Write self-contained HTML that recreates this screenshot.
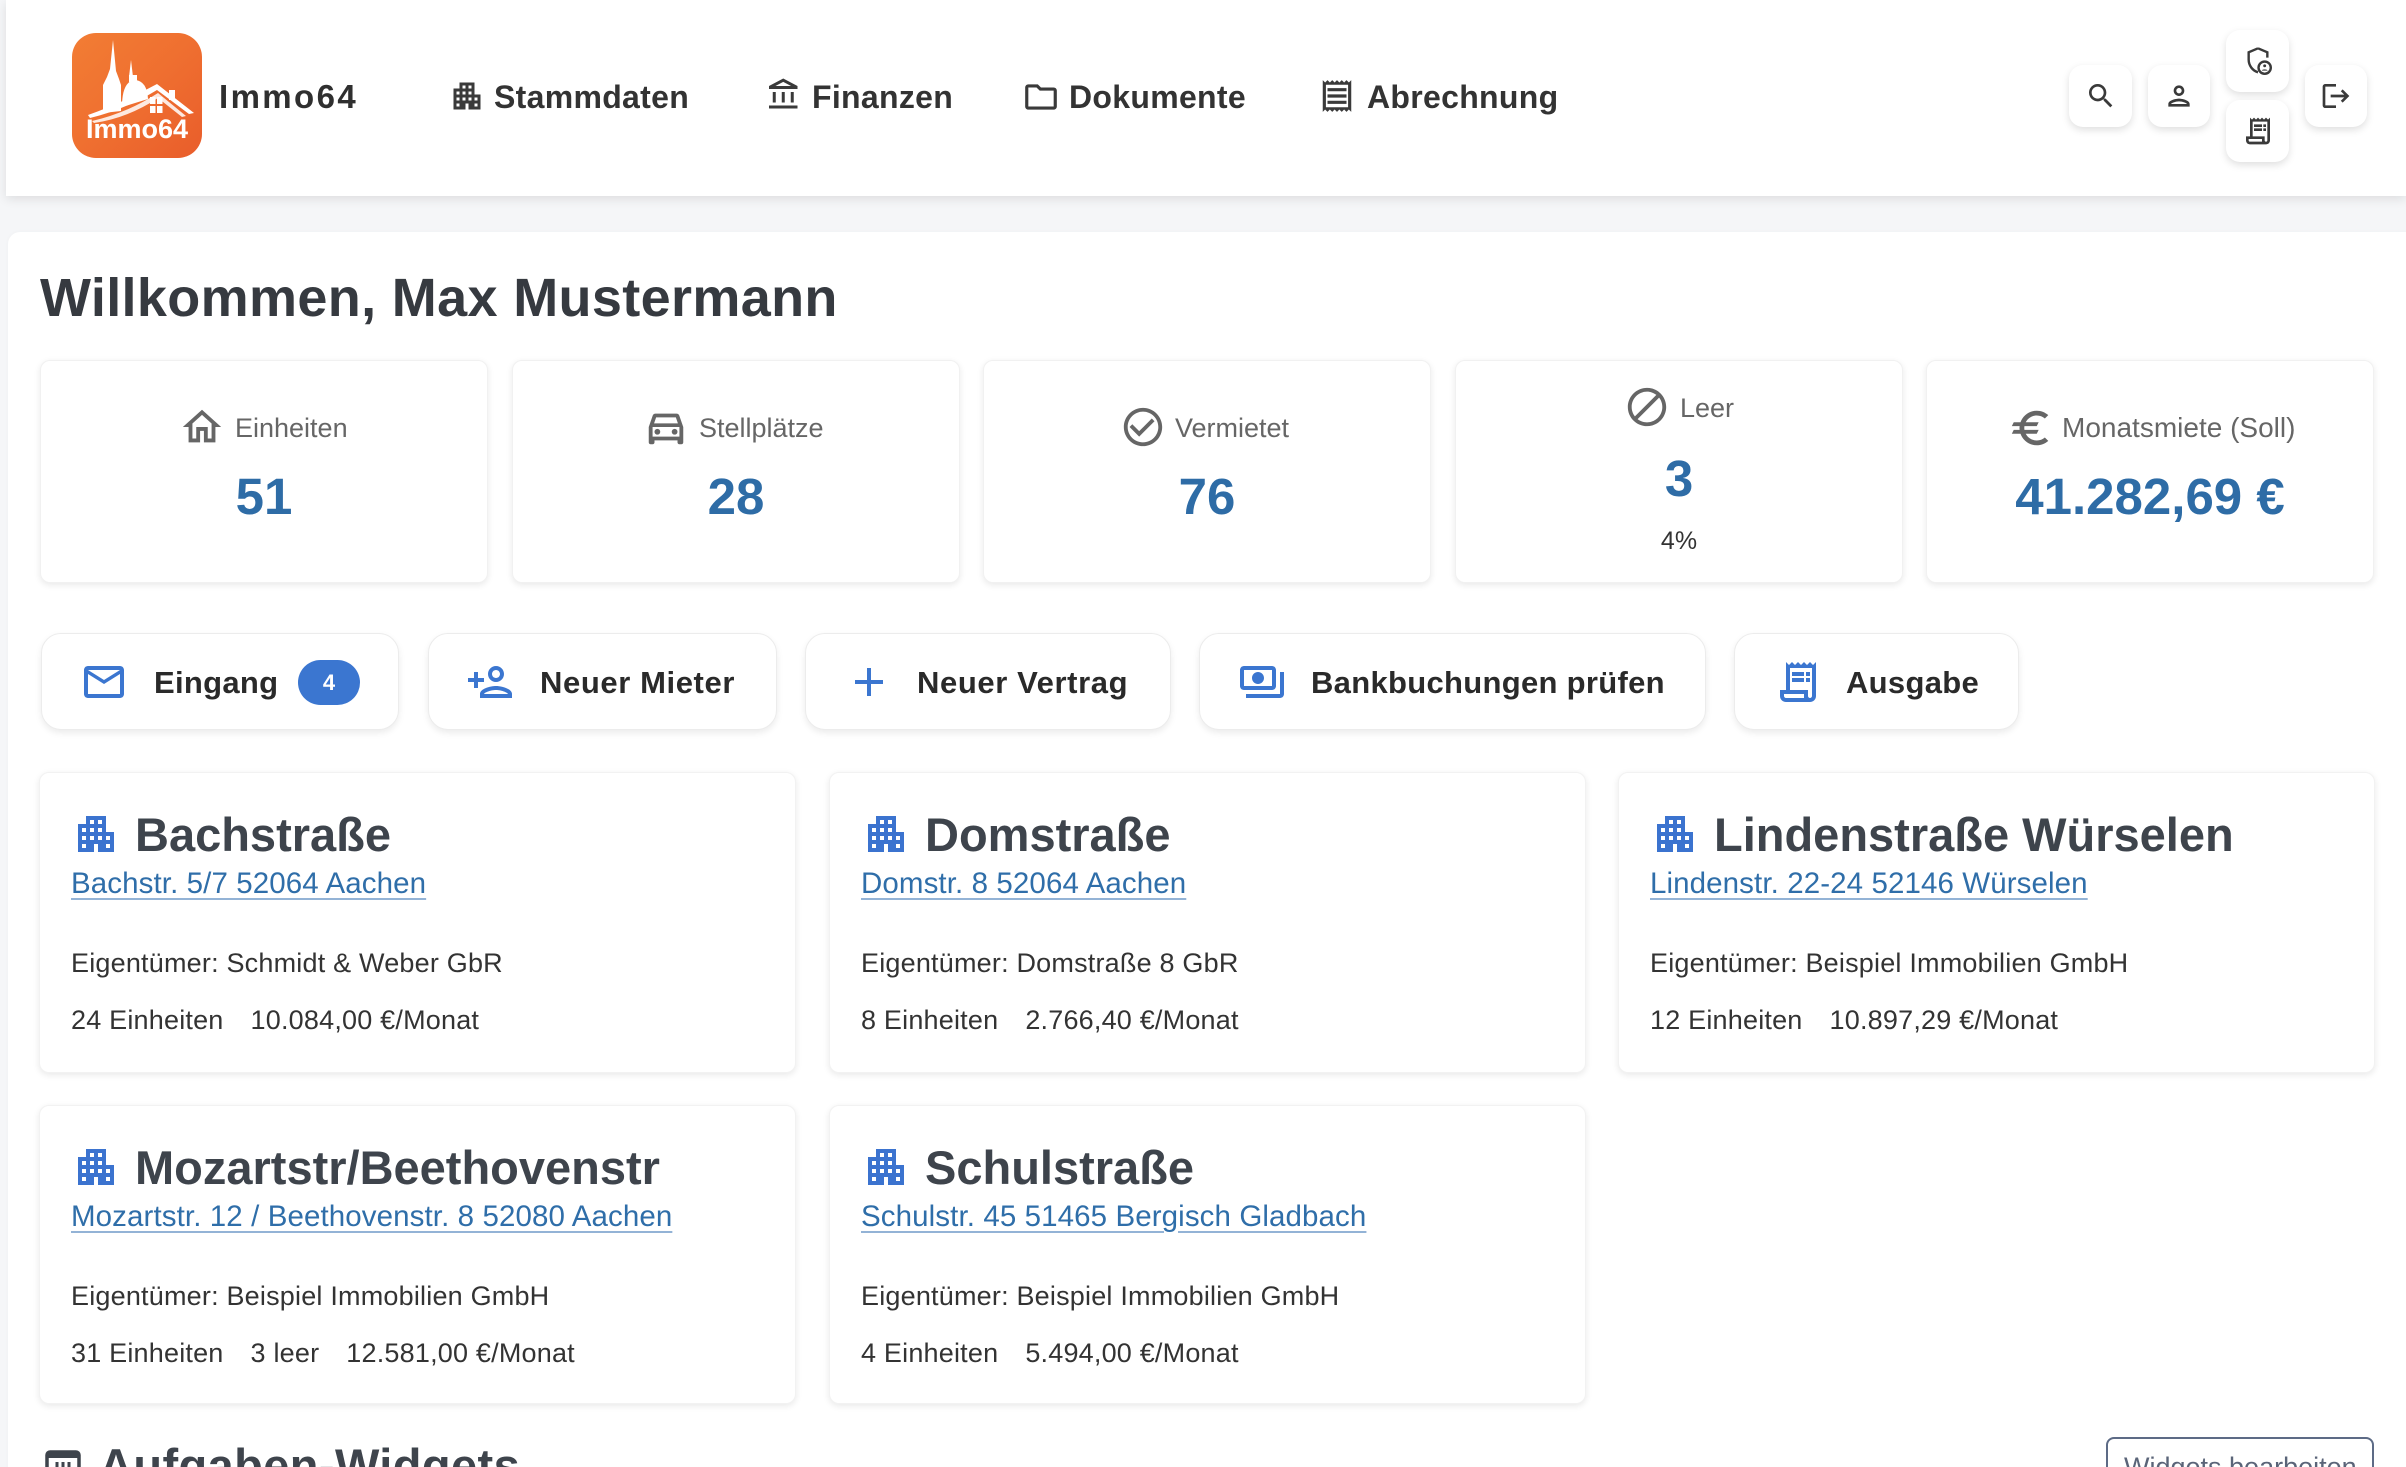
<!DOCTYPE html>
<html><head><meta charset="utf-8">
<style>
*{box-sizing:border-box;margin:0;padding:0}
html,body{width:2406px;height:1467px;overflow:hidden}
body{position:relative;background:#f5f6f8;font-family:"Liberation Sans",Arial,sans-serif;color:#333}
.a{position:absolute;white-space:nowrap;line-height:1}
.hdr{position:absolute;left:6px;top:0;width:2400px;height:196px;background:#fff;box-shadow:0 3px 10px rgba(0,0,0,.10)}
.main{position:absolute;left:8px;top:232px;width:2420px;height:1300px;background:#fff;border-radius:12px;box-shadow:0 0 4px rgba(0,0,0,.03)}
.nav{font-size:32px;font-weight:bold;color:#333;top:81px;letter-spacing:0.3px}
.hb{position:absolute;background:#fff;border-radius:14px;box-shadow:0 3px 8px rgba(0,0,0,.13);display:flex;align-items:center;justify-content:center}
.sc{position:absolute;top:360px;width:448px;height:223px;background:#fff;border-radius:10px;box-shadow:0 2px 7px rgba(0,0,0,.09);border:1px solid #f1f1f1}
.sl{font-size:27px;color:#666;top:415px}
.sn{position:absolute;left:0;width:100%;text-align:center;font-size:51px;font-weight:bold;color:#2e6ca6;line-height:1}
.btn{position:absolute;top:633px;height:97px;background:#fff;border-radius:20px;border:1px solid #ececec;box-shadow:0 3px 7px rgba(0,0,0,.08)}
.bt{font-size:31px;font-weight:bold;color:#2a2a2a;top:667px;letter-spacing:0.3px}
.bi{position:absolute;top:658px}
.pc{position:absolute;width:757px;background:#fff;border-radius:10px;box-shadow:0 2px 7px rgba(0,0,0,.09);border:1px solid #f2f2f2}
.pc .ic{position:absolute;left:32px;top:37px}
.pt{position:absolute;left:95px;top:38px;font-size:47px;font-weight:bold;color:#3e444c;line-height:1;white-space:nowrap}
.pl{position:absolute;left:31px;top:96px;font-size:29.5px;color:#2f6ea9;line-height:1;white-space:nowrap;text-decoration:underline;text-decoration-color:#93b3d6;text-decoration-thickness:2px;text-underline-offset:5px;letter-spacing:0.1px}
.po{position:absolute;left:31px;top:177px;font-size:27px;color:#333;line-height:1;white-space:nowrap;letter-spacing:0.2px}
.ps{position:absolute;left:31px;top:234px;font-size:27px;color:#333;line-height:1;white-space:nowrap;letter-spacing:0.2px}
.ps span{margin-right:27px}
</style></head><body>

<div class="hdr"></div>

<!-- Logo -->
<svg class="a" style="left:72px;top:33px" width="130" height="125" viewBox="0 0 130 125">
<defs><linearGradient id="lg" x1="0" y1="0" x2="1" y2="1"><stop offset="0" stop-color="#f27d34"/><stop offset="0.5" stop-color="#ef6f30"/><stop offset="1" stop-color="#e95d2b"/></linearGradient></defs>
<rect x="0" y="0" width="130" height="125" rx="24" fill="url(#lg)"/>
<g fill="#fff">
<polygon points="41,7 44,38 47,46 49,52 49,78 31,80 31,52 35,44 38,36"/>
<polygon points="59,27 61,44 57,44"/>
<path d="M50 74 Q50 48 63 47 Q75 48 76 66 Z"/>
<rect x="57" y="42" width="8" height="7"/>
<path d="M16 82 Q50 70 85 51 L122 80 L117 81 L85 57 Q52 77 18 85 Z"/>
<path d="M20 88 Q55 80 86 60 L114 83 L110 84 L86 65 Q56 85 22 90 Z" opacity=".85"/>
<rect x="97" y="57" width="6" height="10"/>
<rect x="78" y="64" width="5.5" height="7"/><rect x="85" y="64" width="5.5" height="7"/>
<rect x="78" y="73" width="5.5" height="7"/><rect x="85" y="73" width="5.5" height="7"/>
</g>
<text x="65" y="105" text-anchor="middle" font-family="Liberation Sans, Arial, sans-serif" font-weight="bold" font-size="27" fill="#fff">Immo64</text>
</svg>

<div class="a" style="left:219px;top:80px;font-size:33px;font-weight:bold;color:#2f2f2f;letter-spacing:2.4px">Immo64</div>

<!-- nav icons -->
<svg class="a" style="left:449px;top:78px" width="36" height="36" viewBox="0 0 24 24"><path fill="#3a3a3a" fill-rule="evenodd" d="M17 11V3H7v4H3v14h8v-4h2v4h8V11h-4z M7 19H5v-2h2v2z M7 15H5v-2h2v2z M7 11H5V9h2v2z M11 15H9v-2h2v2z M11 11H9V9h2v2z M11 7H9V5h2v2z M15 15h-2v-2h2v2z M15 11h-2V9h2v2z M15 7h-2V5h2v2z M19 19h-2v-2h2v2z M19 15h-2v-2h2v2z"/></svg>
<div class="a nav" style="left:494px">Stammdaten</div>
<svg class="a" style="left:766px;top:77px" width="36" height="36" viewBox="0 0 24 24"><path fill="#3a3a3a" d="M6.5 10h-2v7h2v-7zm6 0h-2v7h2v-7zm8.5 9H2v2h19v-2zm-2.5-9h-2v7h2v-7zm-7-6.74L16.71 6H6.29l5.21-2.74m0-2.26L2 6v2h19V6l-9.5-5z"/></svg>
<div class="a nav" style="left:812px">Finanzen</div>
<svg class="a" style="left:1022px;top:78px" width="38" height="38" viewBox="0 0 24 24"><path fill="#3a3a3a" d="M9.17 6l2 2H20v10H4V6h5.17M10 4H4c-1.1 0-1.99.9-1.99 2L2 18c0 1.1.9 2 2 2h16c1.1 0 2-.9 2-2V8c0-1.1-.9-2-2-2h-8l-2-2z"/></svg>
<div class="a nav" style="left:1069px">Dokumente</div>
<svg class="a" style="left:1318px;top:77px" width="38" height="38" viewBox="0 0 24 24"><path fill="#3a3a3a" d="M19.5 3.5L18 2l-1.5 1.5L15 2l-1.5 1.5L12 2l-1.5 1.5L9 2 7.5 3.5 6 2 4.5 3.5 3 2v20l1.5-1.5L6 22l1.5-1.5L9 22l1.5-1.5L12 22l1.5-1.5L15 22l1.5-1.5L18 22l1.5-1.5L21 22V2l-1.5 1.5zM19 19.09H5V4.91h14v14.18zM6 15h12v2H6zm0-4h12v2H6zm0-4h12v2H6z"/></svg>
<div class="a nav" style="left:1367px">Abrechnung</div>

<!-- header right buttons -->
<div class="hb" style="left:2069px;top:65px;width:63px;height:62px"><svg width="32" height="32" viewBox="0 0 24 24"><path fill="#3a3a3a" d="M15.5 14h-.79l-.28-.27C15.41 12.59 16 11.11 16 9.5 16 5.91 13.09 3 9.5 3S3 5.91 3 9.5 5.91 16 9.5 16c1.61 0 3.09-.59 4.23-1.57l.27.28v.79l5 4.99L20.49 19l-4.99-5zm-6 0C7.01 14 5 11.99 5 9.5S7.01 5 9.5 5 14 7.01 14 9.5 11.99 14 9.5 14z"/></svg></div>
<div class="hb" style="left:2148px;top:65px;width:62px;height:62px"><svg width="32" height="32" viewBox="0 0 24 24"><path fill="#3a3a3a" d="M12 6c1.1 0 2 .9 2 2s-.9 2-2 2-2-.9-2-2 .9-2 2-2m0 10c2.7 0 5.8 1.29 6 2H6c.23-.72 3.31-2 6-2m0-12C9.79 4 8 5.790 8 8s1.79 4 4 4 4-1.79 4-4-1.79-4-4-4zm0 10c-2.67 0-8 1.34-8 4v2h16v-2c0-2.66-5.33-4-8-4z"/></svg></div>
<div class="hb" style="left:2226px;top:30px;width:63px;height:62px"><svg width="32" height="32" viewBox="0 0 24 24"><path fill="none" stroke="#3a3a3a" stroke-width="1.8" d="M12 2.5L5 5.5v5.5c0 4.3 2.8 8.2 7 9.5"/><path fill="none" stroke="#3a3a3a" stroke-width="1.8" d="M12 2.5l7 3v4"/><circle cx="17" cy="17" r="4.6" fill="none" stroke="#3a3a3a" stroke-width="1.8"/><circle cx="17" cy="15.6" r="1.1" fill="#3a3a3a"/><path d="M14.8 19.2c.6-1.2 3.8-1.2 4.4 0z" fill="#3a3a3a"/></svg></div>
<div class="hb" style="left:2226px;top:100px;width:63px;height:62px"><svg width="32" height="32" viewBox="0 0 24 24"><path fill="#3a3a3a" d="M19.5 3.5L18 2l-1.5 1.5L15 2l-1.5 1.5L12 2l-1.5 1.5L9 2 7.5 3.5 6 2v14H3v3c0 1.66 1.34 3 3 3h12c1.66 0 3-1.34 3-3V2l-1.5 1.5zM15 20H6c-.55 0-1-.45-1-1v-1h10v2zm4-1c0 .55-.45 1-1 1s-1-.45-1-1v-3H8V5h11v14zM9 7h6v2H9zM16 7h2v2h-2zM9 10h6v2H9zM16 10h2v2h-2z"/></svg></div>
<div class="hb" style="left:2305px;top:65px;width:62px;height:62px"><svg width="32" height="32" viewBox="0 0 24 24"><path fill="#3a3a3a" d="M17 7l-1.41 1.41L18.17 11H8v2h10.17l-2.58 2.58L17 17l5-5zM4 5h8V3H4c-1.1 0-2 .9-2 2v14c0 1.1.9 2 2 2h8v-2H4V5z"/></svg></div>

<div class="main"></div>

<div class="a" style="left:40px;top:271px;font-size:54px;font-weight:bold;color:#363a40;letter-spacing:0.35px">Willkommen, Max Mustermann</div>

<!-- stat cards -->
<div class="sc" style="left:40px"><div class="sn" style="top:110px">51</div></div>
<div class="sc" style="left:512px"><div class="sn" style="top:110px">28</div></div>
<div class="sc" style="left:983px"><div class="sn" style="top:110px">76</div></div>
<div class="sc" style="left:1455px"><div class="sn" style="top:92px">3</div><div style="position:absolute;left:0;width:100%;top:168px;text-align:center;font-size:25px;color:#333;line-height:1">4%</div></div>
<div class="sc" style="left:1926px"><div class="sn" style="top:110px">41.282,69 €</div></div>

<svg class="a" style="left:179px;top:404px" width="46" height="46" viewBox="0 0 24 24"><path fill="#666" d="M12 5.69l5 4.5V18h-2v-6H9v6H7v-7.81l5-4.5M12 3L2 12h3v8h6v-6h2v6h6v-8h3L12 3z"/></svg>
<div class="a sl" style="left:235px">Einheiten</div>
<svg class="a" style="left:643px;top:404px" width="46" height="46" viewBox="0 0 24 24"><path fill="#666" d="M18.92 6.01C18.72 5.42 18.16 5 17.5 5h-11c-.66 0-1.21.42-1.42 1.01L3 12v8c0 .55.45 1 1 1h1c.55 0 1-.45 1-1v-1h12v1c0 .55.45 1 1 1h1c.55 0 1-.45 1-1v-8l-2.08-5.99zM6.85 7h10.29l1.08 3.11H5.77L6.85 7zM19 17H5v-5h14v5z"/><circle cx="7.5" cy="14.5" r="1.5" fill="#666"/><circle cx="16.5" cy="14.5" r="1.5" fill="#666"/></svg>
<div class="a sl" style="left:699px">Stellplätze</div>
<svg class="a" style="left:1120px;top:404px" width="46" height="46" viewBox="0 0 24 24"><path fill="#666" d="M16.59 7.58L10 14.17l-3.59-3.58L5 12l5 5 8-8zM12 2C6.48 2 2 6.48 2 12s4.48 10 10 10 10-4.48 10-10S17.52 2 12 2zm0 18c-4.42 0-8-3.58-8-8s3.58-8 8-8 8 3.58 8 8-3.58 8-8 8z"/></svg>
<div class="a sl" style="left:1175px">Vermietet</div>
<svg class="a" style="left:1624px;top:384px" width="46" height="46" viewBox="0 0 24 24"><path fill="#666" d="M12 2C6.48 2 2 6.48 2 12s4.48 10 10 10 10-4.48 10-10S17.52 2 12 2zM4 12c0-4.42 3.58-8 8-8 1.85 0 3.55.63 4.9 1.69L5.69 16.9C4.63 15.55 4 13.85 4 12zm8 8c-1.85 0-3.55-.63-4.9-1.69L18.31 7.1C19.37 8.45 20 10.15 20 12c0 4.42-3.58 8-8 8z"/></svg>
<div class="a sl" style="left:1680px;top:395px">Leer</div>
<svg class="a" style="left:2008px;top:405px" width="46" height="46" viewBox="0 0 24 24"><path fill="#666" d="M15 18.5c-2.51 0-4.68-1.42-5.760-3.5H15l1-2H8.58c-.05-.33-.08-.66-.08-1s.03-.67.08-1H15l1-2H9.24C10.32 6.92 12.5 5.5 15 5.5c1.61 0 3.09.59 4.23 1.57L21 5.3C19.41 3.87 17.3 3 15 3c-3.92 0-7.24 2.51-8.48 6H3l-1 2h4.06c-.04.33-.06.66-.06 1s.02.67.06 1H3l-1 2h4.52c1.24 3.49 4.56 6 8.48 6 2.31 0 4.41-.87 6-2.3l-1.78-1.77c-1.13.98-2.6 1.57-4.220 1.57z"/></svg>
<div class="a sl" style="left:2062px;top:414px;font-size:28px">Monatsmiete (Soll)</div>

<!-- action buttons -->
<div class="btn" style="left:41px;width:358px"></div>
<div class="btn" style="left:428px;width:349px"></div>
<div class="btn" style="left:805px;width:366px"></div>
<div class="btn" style="left:1199px;width:507px"></div>
<div class="btn" style="left:1734px;width:285px"></div>

<svg class="bi" style="left:80px" width="48" height="48" viewBox="0 0 24 24"><path fill="#3b76d0" d="M22 6c0-1.1-.9-2-2-2H4c-1.1 0-2 .9-2 2v12c0 1.1.9 2 2 2h16c1.1 0 2-.9 2-2V6zm-2 0l-8 5-8-5h16zm0 12H4V8l8 5 8-5v10z"/></svg>
<div class="a bt" style="left:154px">Eingang</div>
<div class="a" style="left:298px;top:660px;width:62px;height:45px;border-radius:23px;background:#3b76d0;color:#fff;font-size:22px;font-weight:bold;text-align:center;line-height:45px">4</div>

<svg class="bi" style="left:466px" width="48" height="48" viewBox="0 0 24 24"><path fill="#3b76d0" d="M15 12c2.21 0 4-1.79 4-4s-1.79-4-4-4-4 1.79-4 4 1.79 4 4 4zm0-6c1.1 0 2 .9 2 2s-.9 2-2 2-2-.9-2-2 .9-2 2-2zm0 8c-2.67 0-8 1.34-8 4v2h16v-2c0-2.66-5.330-4-8-4zm-6 4c.22-.72 3.31-2 6-2 2.7 0 5.8 1.29 6 2H9zm-3-3v-3h3v-2H6V7H4v3H1v2h3v3z"/></svg>
<div class="a bt" style="left:540px;letter-spacing:0.6px">Neuer Mieter</div>

<svg class="bi" style="left:845px" width="48" height="48" viewBox="0 0 24 24"><path fill="#3b76d0" d="M19 13h-6v6h-2v-6H5v-2h6V5h2v6h6v2z"/></svg>
<div class="a bt" style="left:917px;letter-spacing:0.6px">Neuer Vertrag</div>

<svg class="bi" style="left:1238px" width="48" height="48" viewBox="0 0 24 24"><path fill="#3b76d0" d="M19 14V6c0-1.1-.9-2-2-2H3c-1.1 0-2 .9-2 2v8c0 1.1.9 2 2 2h14c1.1 0 2-.9 2-2zm-2 0H3V6h14v8zm-7-7c-1.66 0-3 1.34-3 3s1.34 3 3 3 3-1.34 3-3-1.34-3-3-3zm13 0v11c0 1.1-.9 2-2 2H4v-2h17V7h2z"/></svg>
<div class="a bt" style="left:1311px">Bankbuchungen prüfen</div>

<svg class="bi" style="left:1774px" width="48" height="48" viewBox="0 0 24 24"><path fill="#3b76d0" d="M19.5 3.5L18 2l-1.5 1.5L15 2l-1.5 1.5L12 2l-1.5 1.5L9 2 7.5 3.5 6 2v14H3v3c0 1.66 1.34 3 3 3h12c1.66 0 3-1.34 3-3V2l-1.5 1.5zM15 20H6c-.55 0-1-.45-1-1v-1h10v2zm4-1c0 .55-.45 1-1 1s-1-.45-1-1v-3H8V5h11v14zM9 7h6v2H9zM16 7h2v2h-2zM9 10h6v2H9zM16 10h2v2h-2z"/></svg>
<div class="a bt" style="left:1846px">Ausgabe</div>

<!-- property cards -->
<div class="pc" style="left:39px;top:772px;height:301px">
<svg class="ic" width="48" height="48" viewBox="0 0 24 24"><path fill="#3b73cf" fill-rule="evenodd" d="M17 11V3H7v4H3v14h8v-4h2v4h8V11h-4z M7 19H5v-2h2v2z M7 15H5v-2h2v2z M7 11H5V9h2v2z M11 15H9v-2h2v2z M11 11H9V9h2v2z M11 7H9V5h2v2z M15 15h-2v-2h2v2z M15 11h-2V9h2v2z M15 7h-2V5h2v2z M19 19h-2v-2h2v2z M19 15h-2v-2h2v2z"/></svg>
<div class="pt">Bachstraße</div>
<div class="pl">Bachstr. 5/7 52064 Aachen</div>
<div class="po">Eigentümer: Schmidt &amp; Weber GbR</div>
<div class="ps"><span>24 Einheiten</span><span>10.084,00 €/Monat</span></div>
</div>

<div class="pc" style="left:829px;top:772px;height:301px">
<svg class="ic" width="48" height="48" viewBox="0 0 24 24"><path fill="#3b73cf" fill-rule="evenodd" d="M17 11V3H7v4H3v14h8v-4h2v4h8V11h-4z M7 19H5v-2h2v2z M7 15H5v-2h2v2z M7 11H5V9h2v2z M11 15H9v-2h2v2z M11 11H9V9h2v2z M11 7H9V5h2v2z M15 15h-2v-2h2v2z M15 11h-2V9h2v2z M15 7h-2V5h2v2z M19 19h-2v-2h2v2z M19 15h-2v-2h2v2z"/></svg>
<div class="pt">Domstraße</div>
<div class="pl">Domstr. 8 52064 Aachen</div>
<div class="po">Eigentümer: Domstraße 8 GbR</div>
<div class="ps"><span>8 Einheiten</span><span>2.766,40 €/Monat</span></div>
</div>

<div class="pc" style="left:1618px;top:772px;height:301px">
<svg class="ic" width="48" height="48" viewBox="0 0 24 24"><path fill="#3b73cf" fill-rule="evenodd" d="M17 11V3H7v4H3v14h8v-4h2v4h8V11h-4z M7 19H5v-2h2v2z M7 15H5v-2h2v2z M7 11H5V9h2v2z M11 15H9v-2h2v2z M11 11H9V9h2v2z M11 7H9V5h2v2z M15 15h-2v-2h2v2z M15 11h-2V9h2v2z M15 7h-2V5h2v2z M19 19h-2v-2h2v2z M19 15h-2v-2h2v2z"/></svg>
<div class="pt">Lindenstraße Würselen</div>
<div class="pl">Lindenstr. 22-24 52146 Würselen</div>
<div class="po">Eigentümer: Beispiel Immobilien GmbH</div>
<div class="ps"><span>12 Einheiten</span><span>10.897,29 €/Monat</span></div>
</div>

<div class="pc" style="left:39px;top:1105px;height:299px">
<svg class="ic" width="48" height="48" viewBox="0 0 24 24"><path fill="#3b73cf" fill-rule="evenodd" d="M17 11V3H7v4H3v14h8v-4h2v4h8V11h-4z M7 19H5v-2h2v2z M7 15H5v-2h2v2z M7 11H5V9h2v2z M11 15H9v-2h2v2z M11 11H9V9h2v2z M11 7H9V5h2v2z M15 15h-2v-2h2v2z M15 11h-2V9h2v2z M15 7h-2V5h2v2z M19 19h-2v-2h2v2z M19 15h-2v-2h2v2z"/></svg>
<div class="pt">Mozartstr/Beethovenstr</div>
<div class="pl">Mozartstr. 12 / Beethovenstr. 8 52080 Aachen</div>
<div class="po">Eigentümer: Beispiel Immobilien GmbH</div>
<div class="ps"><span>31 Einheiten</span><span>3 leer</span><span>12.581,00 €/Monat</span></div>
</div>

<div class="pc" style="left:829px;top:1105px;height:299px">
<svg class="ic" width="48" height="48" viewBox="0 0 24 24"><path fill="#3b73cf" fill-rule="evenodd" d="M17 11V3H7v4H3v14h8v-4h2v4h8V11h-4z M7 19H5v-2h2v2z M7 15H5v-2h2v2z M7 11H5V9h2v2z M11 15H9v-2h2v2z M11 11H9V9h2v2z M11 7H9V5h2v2z M15 15h-2v-2h2v2z M15 11h-2V9h2v2z M15 7h-2V5h2v2z M19 19h-2v-2h2v2z M19 15h-2v-2h2v2z"/></svg>
<div class="pt">Schulstraße</div>
<div class="pl">Schulstr. 45 51465 Bergisch Gladbach</div>
<div class="po">Eigentümer: Beispiel Immobilien GmbH</div>
<div class="ps"><span>4 Einheiten</span><span>5.494,00 €/Monat</span></div>
</div>

<!-- widgets heading -->
<svg class="a" style="left:45px;top:1450px" width="36" height="30" viewBox="0 0 36 30"><rect x="2" y="2" width="32" height="30" rx="3" fill="none" stroke="#3e444c" stroke-width="3.5"/><rect x="2" y="2" width="32" height="6" fill="#3e444c"/><path d="M12 12v18M18 12v18M24 12v18" stroke="#3e444c" stroke-width="3"/></svg>
<div class="a" style="left:99px;top:1442px;font-size:47px;font-weight:bold;color:#3e444c;letter-spacing:0.4px">Aufgaben-Widgets</div>

<div class="a" style="left:2106px;top:1437px;width:268px;height:60px;border:2px solid #5d6b86;border-radius:8px;background:#fff"></div>
<div class="a" style="left:2124px;top:1454px;font-size:27px;color:#5a6478">Widgets bearbeiten</div>

</body></html>
